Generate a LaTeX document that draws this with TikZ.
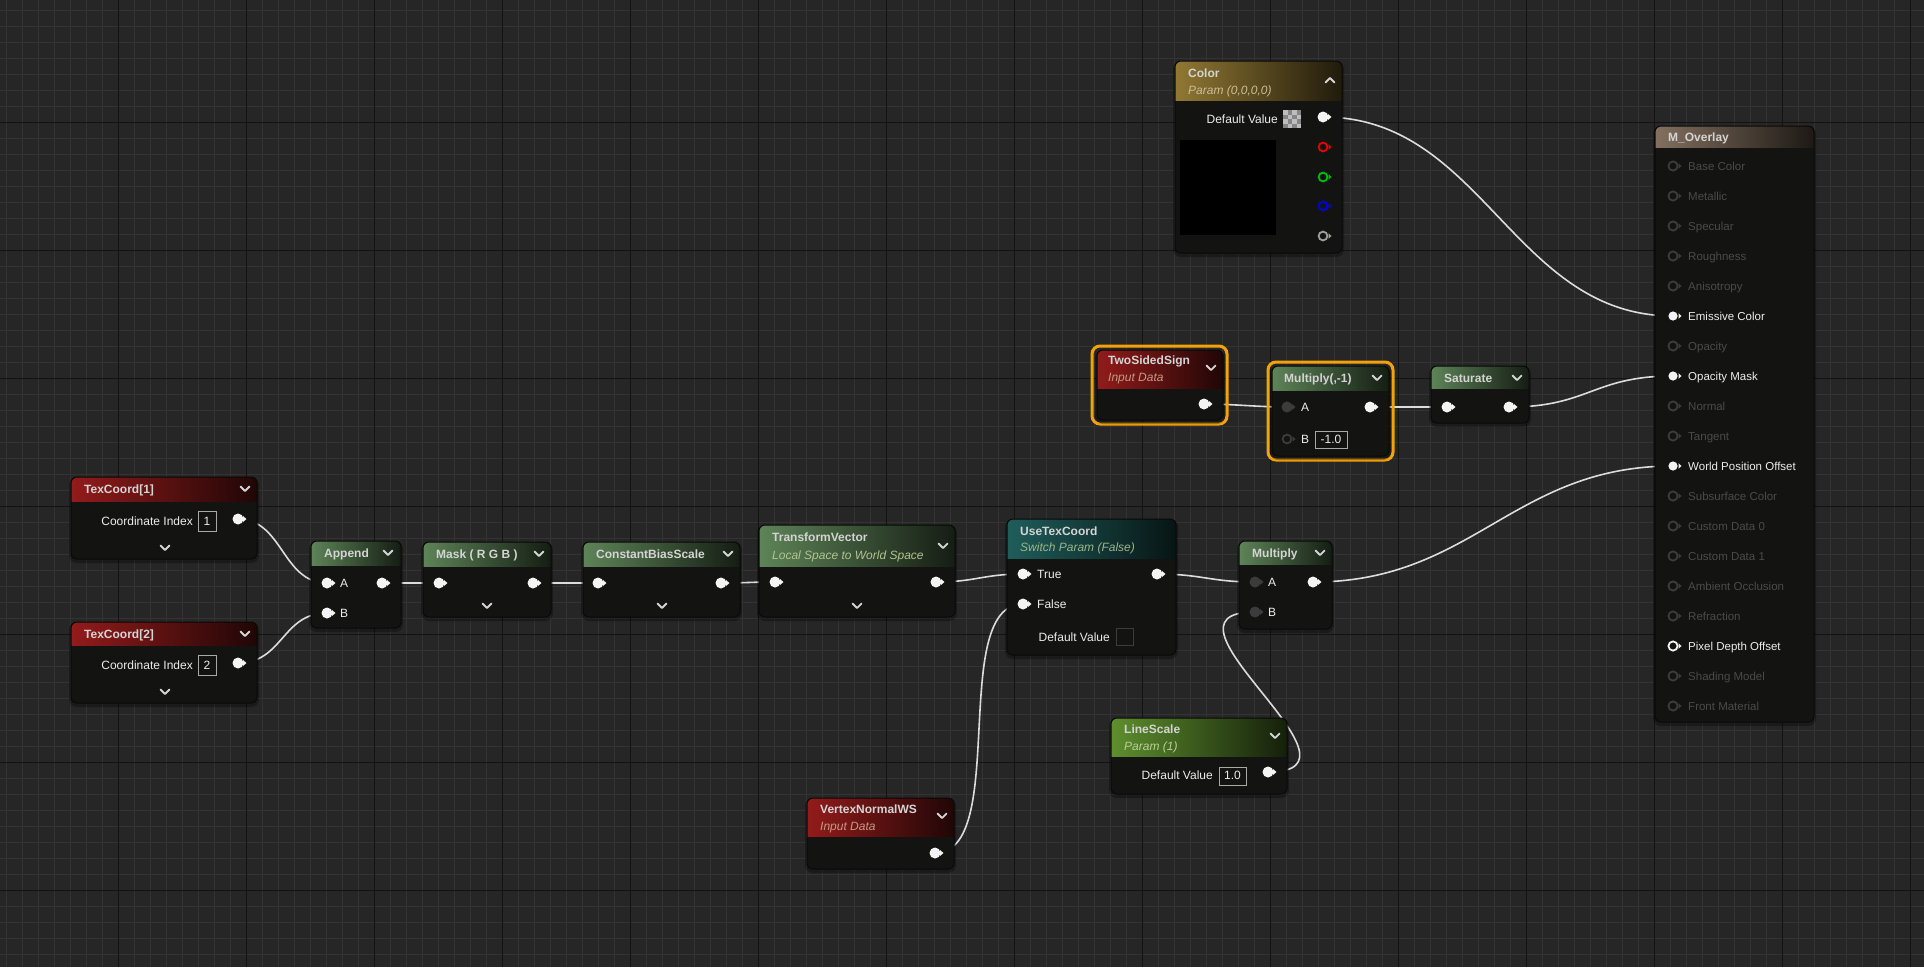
\documentclass[tikz,border=0pt]{standalone}
\usepackage{fontspec}
\setmainfont{Liberation Sans}
\usetikzlibrary{arrows.meta,positioning,calc}

\definecolor{canvas}{HTML}{262626}
\definecolor{gridfine}{HTML}{333333}
\definecolor{gridmajor}{HTML}{131313}
\definecolor{bodyfill}{HTML}{131412}
\definecolor{bodyedge}{HTML}{080808}
\definecolor{titletext}{HTML}{D4D4D4}
\definecolor{labeltext}{HTML}{ECECEC}
\definecolor{dimtext}{HTML}{4A4A4A}
\definecolor{dimpin}{HTML}{3C3C3C}
\definecolor{pinwhite}{HTML}{F4F4F4}
\definecolor{wirecol}{HTML}{DCDCDC}
\definecolor{selorange}{HTML}{F2A20A}
\definecolor{hdred}{HTML}{931B1B}
\definecolor{hdgreen}{HTML}{5E8458}
\definecolor{hdgold}{HTML}{917833}
\definecolor{hdteal}{HTML}{1F5E5B}
\definecolor{hdlime}{HTML}{5E8F2E}
\definecolor{hdtan}{HTML}{83705F}
\definecolor{subred}{HTML}{C69A84}
\definecolor{subgold}{HTML}{CBBE97}
\definecolor{subteal}{HTML}{9DB58C}
\definecolor{sublime}{HTML}{B9CF98}
\definecolor{subgreen}{HTML}{B4C38F}
\definecolor{boxedge}{HTML}{A8A8A8}

\pgfdeclarelayer{background}
\pgfdeclarelayer{wires}
\pgfsetlayers{background,wires,main}

\tikzset{
  finegrid/.style={draw=gridfine, line width=1pt},
  majorgrid/.style={draw=gridmajor, line width=1pt},
  nodebody/.style={fill=bodyfill},
  nodeshadow/.style={fill=black, opacity=0.3, rounded corners=8pt},
  nodeedge/.style={draw=bodyedge, line width=1pt, rounded corners=6pt},
  title/.style={text=titletext, font=\fontsize{12}{14}\selectfont\bfseries, inner sep=0pt, anchor=base west},
  subtitle/.style={font=\fontsize{12}{14}\selectfont\itshape, inner sep=0pt, anchor=base west},
  pinlabel/.style={text=labeltext, font=\fontsize{12}{14}\selectfont, inner sep=0pt, anchor=base west},
  valtext/.style={text=labeltext, font=\fontsize{12}{14}\selectfont, inner sep=0pt, anchor=base},
  valbox/.style={draw=boxedge, line width=1pt},
  wire/.style={draw=wirecol, line width=1.6pt},
  chev/.style={draw=titletext, line width=1.8pt, line cap=round, line join=round},
  selring/.style={draw=selorange, line width=3pt, rounded corners=8pt},
  pinon/.style={fill=pinwhite},
  pinoff/.style={draw=#1, line width=1.8pt},
  pindark/.style={fill=dimpin},
  mopin on/.style={fill=pinwhite},
  mopin off/.style={draw=dimpin, line width=1.8pt},
  mopin ring/.style={draw=pinwhite, line width=1.8pt},
  motip on/.style={fill=pinwhite},
  motip off/.style={fill=dimpin},
  motip ring/.style={fill=pinwhite},
  molabel on/.style={pinlabel, font=\fontsize{11.5}{14}\selectfont},
  molabel ring/.style={pinlabel, font=\fontsize{11.5}{14}\selectfont},
  molabel off/.style={pinlabel, text=dimtext, font=\fontsize{11.5}{14}\selectfont},
}

% node box: x1, y1, x2, y2, header bottom, header colour
\newcommand{\ueblock}[6]{%
  \fill[nodeshadow] (#1-2,#2) rectangle (#3+2,#4+4);
  \begin{scope}
    \clip[rounded corners=6pt] (#1,#2) rectangle (#3,#4);
    \fill[nodebody] (#1,#2) rectangle (#3,#4);
    \shade[left color=#6, right color=#6!22!black] (#1,#2) rectangle (#3,#5);
  \end{scope}
  \draw[nodeedge] (#1,#2) rectangle (#3,#4);
}
% pins: name, x, y
\newcommand{\pinwhite}[3]{%
  \coordinate (#1) at (#2,#3);
  \fill[pinon, shift={(#1)}] (0,0) circle (5.5pt) (5,-3) -- (8.5,0) -- (5,3) -- cycle;
}
\newcommand{\pingrey}[3]{%
  \coordinate (#1) at (#2,#3);
  \fill[pindark, shift={(#1)}] (0,0) circle (5.5pt) (5,-3) -- (8.5,0) -- (5,3) -- cycle;
}
\newcommand{\pinring}[4]{%
  \coordinate (#1) at (#2,#3);
  \draw[pinoff=#4, shift={(#1)}] (0,0) circle (4.4pt);
  \fill[#4, shift={(#1)}] (5.5,-2.8) -- (8.5,0) -- (5.5,2.8) -- cycle;
}
\newcommand{\chevdown}[2]{\draw[chev] (#1-4.5,#2-2.5) -- (#1,#2+2) -- (#1+4.5,#2-2.5);}
\newcommand{\chevup}[2]{\draw[chev] (#1-4.5,#2+2.5) -- (#1,#2-2) -- (#1+4.5,#2+2.5);}

\begin{document}
\begin{tikzpicture}[x=1pt, y=-1pt, >=Stealth]
  \useasboundingbox (0,0) rectangle (1924,967);

  % canvas and grid
  \begin{pgfonlayer}{background}
    \fill[canvas] (0,0) rectangle (1924,967);
    \foreach \gx in {6,22,...,1926} \draw[finegrid] (\gx,0) -- (\gx,967);
    \foreach \gy in {10,26,...,970} \draw[finegrid] (0,\gy) -- (1924,\gy);
    \foreach \gx in {118,246,...,1910} \draw[majorgrid] (\gx,0) -- (\gx,967);
    \foreach \gy in {122,250,...,890} \draw[majorgrid] (0,\gy) -- (1924,\gy);
  \end{pgfonlayer}

  % TexCoord[1]
  \ueblock{71}{477}{257}{559}{501}{hdred}
  \node[title] (tcOneTitle) at (84,493) {TexCoord[1]};
  \chevdown{245}{489}
  \node[pinlabel, anchor=base east] (tcOneLbl) at (193,525) {Coordinate Index};
  \draw[valbox] (198,511) rectangle (216,531);
  \node[valtext] (tcOneVal) at (207,525) {1};
  \pinwhite{tcOneOut}{238}{519}
  \chevdown{165}{548}

  % TexCoord[2]
  \ueblock{71}{622}{257}{703}{645}{hdred}
  \node[title] (tcTwoTitle) at (84,638) {TexCoord[2]};
  \chevdown{245}{634}
  \node[pinlabel, anchor=base east] (tcTwoLbl) at (193,669) {Coordinate Index};
  \draw[valbox] (198,655) rectangle (216,675);
  \node[valtext] (tcTwoVal) at (207,669) {2};
  \pinwhite{tcTwoOut}{238}{663}
  \chevdown{165}{692}

  % Append
  \ueblock{311}{541}{401}{628}{565}{hdgreen}
  \node[title] (appTitle) at (324,557) {Append};
  \chevdown{388}{553}
  \pinwhite{appA}{327}{583}
  \node[pinlabel] (appALbl) at (340,587) {A};
  \pinwhite{appB}{327}{613}
  \node[pinlabel] (appBLbl) at (340,617) {B};
  \pinwhite{appOut}{382}{583}

  % Mask ( R G B )
  \ueblock{423}{542}{551}{617}{566}{hdgreen}
  \node[title] (maskTitle) at (436,558) {Mask ( R G B )};
  \chevdown{539}{554}
  \pinwhite{maskIn}{439}{583}
  \pinwhite{maskOut}{533}{583}
  \chevdown{487}{606}

  % ConstantBiasScale
  \ueblock{583}{542}{740}{617}{566}{hdgreen}
  \node[title] (cbsTitle) at (596,558) {ConstantBiasScale};
  \chevdown{728}{554}
  \pinwhite{cbsIn}{598}{583}
  \pinwhite{cbsOut}{721}{583}
  \chevdown{662}{606}

  % TransformVector
  \ueblock{759}{525}{955}{617}{566}{hdgreen}
  \node[title] (tvTitle) at (772,541) {TransformVector};
  \node[subtitle, text=subgreen] (tvSub) at (772,559) {Local Space to World Space};
  \chevdown{943}{546}
  \pinwhite{tvIn}{775}{582}
  \pinwhite{tvOut}{936}{582}
  \chevdown{857}{606}

  % UseTexCoord
  \ueblock{1007}{519}{1176}{655}{558}{hdteal}
  \node[title] (utcTitle) at (1020,535) {UseTexCoord};
  \node[subtitle, text=subteal] (utcSub) at (1020,551) {Switch Param (False)};
  \pinwhite{utcTrue}{1023}{574}
  \node[pinlabel] (utcTrueLbl) at (1037,578) {True};
  \pinwhite{utcFalse}{1023}{604}
  \node[pinlabel] (utcFalseLbl) at (1037,608) {False};
  \pinwhite{utcOut}{1157}{574}
  \node[pinlabel, anchor=base east] (utcDefLbl) at (1110,641) {Default Value};
  \draw[draw=dimpin, line width=1pt] (1116,628) rectangle (1133,645);

  % Multiply
  \ueblock{1239}{541}{1332}{629}{564}{hdgreen}
  \node[title] (mulTitle) at (1252,557) {Multiply};
  \chevdown{1320}{553}
  \pingrey{mulA}{1255}{582}
  \node[pinlabel] (mulALbl) at (1268,586) {A};
  \pingrey{mulB}{1255}{612}
  \node[pinlabel] (mulBLbl) at (1268,616) {B};
  \pinwhite{mulOut}{1313}{582}

  % LineScale
  \ueblock{1111}{718}{1287}{794}{756}{hdlime}
  \node[title] (lsTitle) at (1124,733) {LineScale};
  \node[subtitle, text=sublime] (lsSub) at (1124,750) {Param (1)};
  \chevdown{1275}{736}
  \node[pinlabel, anchor=base east] (lsDefLbl) at (1213,779) {Default Value};
  \draw[valbox] (1219,767) rectangle (1246,785);
  \node[valtext] (lsVal) at (1232.5,779) {1.0};
  \pinwhite{lsOut}{1268}{772}

  % VertexNormalWS
  \ueblock{807}{798}{954}{869}{836}{hdred}
  \node[title] (vnTitle) at (820,813) {VertexNormalWS};
  \node[subtitle, text=subred] (vnSub) at (820,830) {Input Data};
  \chevdown{942}{816}
  \pinwhite{vnOut}{935}{853}

  % TwoSidedSign (selected)
  \draw[selring] (1092,346) rectangle (1227,424);
  \ueblock{1097}{350}{1223}{420}{388}{hdred}
  \node[title] (tssTitle) at (1108,364) {TwoSidedSign};
  \node[subtitle, text=subred] (tssSub) at (1108,381) {Input Data};
  \chevdown{1211}{368}
  \pinwhite{tssOut}{1204}{404}

  % Multiply(,-1) (selected)
  \draw[selring] (1268,362) rectangle (1393,460);
  \ueblock{1272}{366}{1389}{456}{390}{hdgreen}
  \node[title] (negTitle) at (1284,382) {Multiply(,-1)};
  \chevdown{1377}{378}
  \pingrey{negA}{1287}{407}
  \node[pinlabel] (negALbl) at (1301,411) {A};
  \pinring{negB}{1287}{439}{dimpin}
  \node[pinlabel] (negBLbl) at (1301,443) {B};
  \draw[valbox] (1315,431) rectangle (1347,448);
  \node[valtext] (negVal) at (1331,443) {-1.0};
  \pinwhite{negOut}{1370}{407}

  % Saturate
  \ueblock{1431}{366}{1529}{423}{388}{hdgreen}
  \node[title] (satTitle) at (1444,382) {Saturate};
  \chevdown{1517}{378}
  \pinwhite{satIn}{1447}{407}
  \pinwhite{satOut}{1509}{407}

  % Color
  \ueblock{1175}{61}{1342}{253}{100}{hdgold}
  \node[title] (colTitle) at (1188,77) {Color};
  \node[subtitle, text=subgold] (colSub) at (1188,94) {Param (0,0,0,0)};
  \chevup{1330}{80}
  \node[pinlabel, anchor=base east] (colDefLbl) at (1278,123) {Default Value};
  \fill[white!74!black] (1283,110) rectangle (1301,128);
  \foreach \ci/\cj in {0/1,0/3,1/0,1/2,2/1,2/3,3/0,3/2}
    \fill[white!52!black] (1283+4.5*\ci,110+4.5*\cj) rectangle ++(4.5,4.5);
  \fill[black] (1180,140) rectangle (1276,235);
  \pinwhite{colOut}{1323}{117}
  \pinring{colR}{1323}{147}{red!90!black}
  \pinring{colG}{1323}{177}{green!75!black}
  \pinring{colB}{1323}{206}{blue!90!black}
  \pinring{colA}{1323}{236}{white!62!black}

  % M_Overlay
  \ueblock{1655}{126}{1814}{722}{147}{hdtan}
  \node[title] (moTitle) at (1668,141) {M\_Overlay};
  \foreach \lab/\st [count=\k from 0] in {Base Color/off, Metallic/off, Specular/off, Roughness/off,
      Anisotropy/off, Emissive Color/on, Opacity/off, Opacity Mask/on, Normal/off, Tangent/off,
      World Position Offset/on, Subsurface Color/off, Custom Data 0/off, Custom Data 1/off,
      Ambient Occlusion/off, Refraction/off, Pixel Depth Offset/ring, Shading Model/off, Front Material/off}
  {
    \coordinate (mo\k) at (1673,{166+30*\k});
    \path[mopin \st, shift={(mo\k)}] (0,0) circle (4.6pt);
    \fill[motip \st, shift={(mo\k)}] (5.5,-2.8) -- (8.5,0) -- (5.5,2.8) -- cycle;
    \node[molabel \st] (molab\k) at (1688,{170+30*\k}) {\lab};
  }

  % connections
  \begin{pgfonlayer}{wires}
    \draw[wire] (tcOneOut) .. controls +(45,0) and +(-45,0) .. (appA);
    \draw[wire] (tcTwoOut) .. controls +(45,0) and +(-45,0) .. (appB);
    \draw[wire] (appOut) .. controls +(20,0) and +(-20,0) .. (maskIn);
    \draw[wire] (maskOut) .. controls +(20,0) and +(-20,0) .. (cbsIn);
    \draw[wire] (cbsOut) .. controls +(25,0) and +(-25,0) .. (tvIn);
    \draw[wire] (tvOut) .. controls +(40,0) and +(-40,0) .. (utcTrue);
    \draw[wire] (utcOut) .. controls +(45,0) and +(-45,0) .. (mulA);
    \draw[wire] (vnOut) .. controls +(75,0) and +(-75,0) .. (utcFalse);
    \draw[wire] (lsOut) .. controls +(115,0) and +(-115,0) .. (mulB);
    \draw[wire] (tssOut) .. controls +(30,0) and +(-30,0) .. (negA);
    \draw[wire] (negOut) .. controls +(30,0) and +(-30,0) .. (satIn);
    \draw[wire] (colOut) .. controls +(160,0) and +(-160,0) .. (mo5);
    \draw[wire] (satOut) .. controls +(80,0) and +(-80,0) .. (mo7);
    \draw[wire] (mulOut) .. controls +(160,0) and +(-160,0) .. (mo10);
  \end{pgfonlayer}
\end{tikzpicture}
\end{document}
